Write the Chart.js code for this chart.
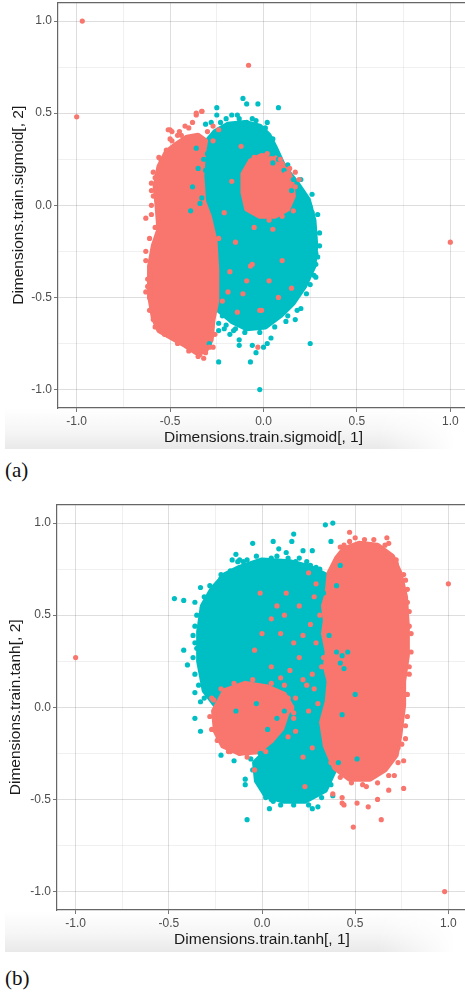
<!DOCTYPE html>
<html><head><meta charset="utf-8">
<script src="https://cdn.jsdelivr.net/npm/chart.js@4/dist/chart.umd.min.js"></script>
<style>
html,body{margin:0;padding:0;background:#fff;}
body{width:465px;height:993px;overflow:hidden;position:relative;}
.shade{position:absolute;left:5px;width:455px;height:41px;background:linear-gradient(to bottom,#ffffff 0%,#f6f6f6 55%,#e9e9e9 100%);-webkit-mask-image:linear-gradient(to right,#000 82%,transparent 99%);mask-image:linear-gradient(to right,#000 82%,transparent 99%);}
canvas{position:absolute;left:0;}
.cap{position:absolute;left:5px;font-family:"Liberation Serif","DejaVu Serif",serif;font-size:21px;line-height:21px;color:#111;}
</style></head><body>
<div class="shade" style="top:408px"></div>
<div class="shade" style="top:910px;height:42px"></div>
<canvas id="ca" width="480" height="450" style="top:0"></canvas>
<canvas id="cb" width="480" height="450" style="top:502px"></canvas>
<div class="cap" style="top:460px">(a)</div>
<div class="cap" style="top:968px">(b)</div>
<script>
const RED = '#F8766D', CYAN = '#00BFC4';
const MAJOR_TICKS = [-1, -0.5, 0, 0.5, 1];
const GRID_TICKS = [-1, -0.75, -0.5, -0.25, 0, 0.25, 0.5, 0.75, 1];
const AXIS_MIN = -1.1, AXIS_MAX = 1.1;

const A_X_TITLE = 'Dimensions.train.sigmoid[, 1]';
const A_Y_TITLE = 'Dimensions.train.sigmoid[, 2]';
const B_X_TITLE = 'Dimensions.train.tanh[, 1]';
const B_Y_TITLE = 'Dimensions.train.tanh[, 2]';

// ---- (a) sigmoid: dense regions (outlines) ----
const A_RED_LEFT_OUTLINE = [[-0.47,0.33],[-0.41,0.37],[-0.35,0.38],[-0.31,0.35],[-0.32,0.29],[-0.33,0.16],[-0.32,0.02],[-0.29,-0.06],[-0.26,-0.19],[-0.25,-0.35],[-0.25,-0.52],[-0.27,-0.62],[-0.28,-0.73],[-0.31,-0.79],[-0.36,-0.80],[-0.42,-0.76],[-0.49,-0.72],[-0.56,-0.68],[-0.59,-0.61],[-0.61,-0.49],[-0.61,-0.33],[-0.59,-0.22],[-0.56,-0.13],[-0.57,0.00],[-0.58,0.10],[-0.56,0.21],[-0.52,0.29]];
const A_CYAN_OUTLINE = [[-0.26,0.40],[-0.19,0.44],[-0.10,0.45],[-0.02,0.43],[0.03,0.38],[0.06,0.32],[0.11,0.21],[0.18,0.12],[0.24,0.03],[0.27,-0.08],[0.28,-0.22],[0.27,-0.33],[0.22,-0.44],[0.16,-0.53],[0.09,-0.60],[0.01,-0.66],[-0.09,-0.67],[-0.17,-0.63],[-0.24,-0.57],[-0.25,-0.46],[-0.25,-0.30],[-0.26,-0.14],[-0.30,0.02],[-0.32,0.19],[-0.31,0.34]];
const A_RED_RIGHT_OUTLINE = [[-0.07,0.24],[-0.01,0.27],[0.06,0.26],[0.12,0.21],[0.15,0.14],[0.16,0.05],[0.13,-0.02],[0.06,-0.06],[-0.02,-0.06],[-0.09,-0.02],[-0.11,0.07],[-0.11,0.17]];
// ---- (a) individual points ----
const A_RED_POINTS = [[-0.97,1.00],[-1.00,0.48],[-0.08,0.76],[1.00,-0.20],
 [-0.36,0.49],[-0.33,0.51],[-0.38,0.45],[-0.50,0.41],[-0.49,0.35],[-0.44,0.38],[-0.27,0.35],[-0.12,0.32],[-0.54,0.21],[-0.60,0.08],[-0.63,-0.07],[-0.60,0.00],[0.17,0.18],[0.12,0.17],[0.19,0.14],
 [0.05,-0.13],[-0.07,-0.33],[0.03,-0.41],[-0.11,-0.48],[-0.02,-0.57],[-0.09,-0.41],[-0.18,-0.36],[-0.24,-0.18],[-0.27,-0.24],[-0.19,-0.47],[-0.06,-0.32],[-0.01,-0.57],[-0.03,-0.77],[-0.21,-0.04],[-0.17,0.13],
 [-0.31,-0.80],[-0.34,-0.81],[-0.29,-0.77],[-0.60,-0.33],[-0.61,-0.50],[-0.59,-0.62],[-0.62,-0.40],
 [-0.42,0.43],[-0.46,0.38],[-0.30,0.40],[-0.52,0.30],[-0.55,0.25],[-0.58,0.15],
 [-0.51,0.41],[-0.49,0.40],[-0.36,0.50],[-0.33,0.51],[-0.27,0.43],[-0.24,0.41],
 [-0.50,0.36],[-0.45,0.40],[-0.40,0.42],[-0.56,0.26],[-0.59,0.18],[-0.60,0.12],[-0.59,0.05],[-0.60,-0.05],[-0.58,-0.12],[-0.61,-0.18],[-0.63,-0.25],[-0.63,-0.30],[-0.62,-0.44],[-0.63,-0.47],[-0.61,-0.57],[-0.58,-0.66],[-0.53,-0.70],[-0.46,-0.75],[-0.40,-0.79],[-0.35,-0.82],[-0.32,-0.83],[-0.27,-0.77],[-0.26,-0.70],
 [-0.05,0.26],[0.02,0.28],[0.09,0.25],[0.14,0.20],[0.17,0.10],[0.16,-0.03],[0.10,-0.06],[0.03,-0.08],
 [-0.15,-0.20],[0.10,-0.30],[-0.05,-0.12],[0.15,-0.45],[-0.14,-0.58],[0.08,-0.50],[-0.22,-0.52]];
const A_CYAN_POINTS = [[-0.02,-1.00],
 [-0.11,0.58],[-0.09,0.55],[-0.03,0.55],[0.08,0.53],[-0.25,0.53],[-0.25,0.49],[-0.17,0.49],[-0.14,0.49],[-0.31,0.44],[-0.23,0.45],[-0.09,0.45],[-0.04,0.46],[0.01,0.42],[0.02,0.38],[0.05,0.31],[0.03,0.28],[0.05,0.28],[0.05,0.23],[0.16,0.14],[0.17,0.10],[0.15,0.08],[0.21,-0.01],[0.25,-0.01],[0.26,-0.04],[0.30,-0.22],[0.28,-0.26],[0.28,-0.32],[0.28,-0.39],[0.25,-0.43],[0.20,-0.56],[0.17,-0.62],[0.12,-0.63],[0.25,-0.75],
 [-0.24,-0.85],[-0.07,-0.85],[-0.04,-0.80],[0.00,-0.77],[-0.13,-0.73],[-0.13,-0.76],[-0.06,-0.76],[0.02,-0.75],[0.04,-0.72],[-0.29,-0.75],[-0.24,-0.64],[-0.24,-0.68],[-0.18,-0.70],[-0.21,-0.67],[-0.16,-0.68],
 [-0.38,0.10],[-0.33,0.04],[-0.31,0.19],[-0.32,0.25],[-0.34,0.01],[-0.39,-0.03],
 [0.11,0.19],[0.20,0.05],[0.22,0.00],[0.24,-0.08],[0.27,-0.12],
 [-0.28,0.45],[-0.20,0.47],[-0.13,0.47],[-0.06,0.47],[0.02,0.45],[0.05,0.36],[0.08,0.25],[0.13,0.22],[0.20,0.14],[0.26,0.06],[0.29,-0.05],[0.30,-0.15],[0.29,-0.28],[0.27,-0.38],[0.23,-0.48],[0.18,-0.57],[0.13,-0.60],[0.06,-0.66],[-0.02,-0.69],[-0.10,-0.69],[-0.15,-0.67],[-0.20,-0.65],[-0.22,-0.60],
 [-0.30,0.28],[-0.35,0.20],[-0.29,0.12],[-0.36,0.31]];

// ---- (b) tanh: dense regions ----
const B_CYAN_MAIN_OUTLINE = [[-0.12,0.76],[0.00,0.80],[0.15,0.79],[0.26,0.76],[0.34,0.72],[0.39,0.63],[0.39,0.47],[0.38,0.25],[0.40,0.09],[0.36,-0.05],[0.30,-0.10],[0.20,-0.10],[0.10,-0.05],[-0.01,0.02],[-0.14,0.03],[-0.25,0.01],[-0.31,0.09],[-0.34,0.25],[-0.34,0.41],[-0.32,0.55],[-0.27,0.64],[-0.20,0.72]];
const B_RED_LOWER_OUTLINE = [[-0.20,0.09],[-0.09,0.13],[0.03,0.11],[0.12,0.07],[0.16,0.00],[0.15,-0.08],[0.12,-0.15],[0.06,-0.21],[0.00,-0.24],[-0.12,-0.25],[-0.21,-0.21],[-0.25,-0.13],[-0.26,-0.02]];
const B_CYAN_LOWER_OUTLINE = [[0.16,-0.04],[0.26,-0.06],[0.36,-0.11],[0.40,-0.21],[0.39,-0.34],[0.34,-0.45],[0.23,-0.51],[0.12,-0.51],[0.02,-0.48],[-0.03,-0.40],[-0.04,-0.30],[0.01,-0.25],[0.07,-0.20],[0.13,-0.13]];
const B_RED_MAIN_OUTLINE = [[0.44,0.86],[0.52,0.89],[0.62,0.88],[0.70,0.82],[0.74,0.73],[0.77,0.60],[0.78,0.44],[0.78,0.28],[0.76,0.14],[0.76,0.01],[0.74,-0.15],[0.72,-0.26],[0.66,-0.34],[0.58,-0.39],[0.47,-0.39],[0.39,-0.33],[0.34,-0.21],[0.32,-0.08],[0.35,0.03],[0.36,0.14],[0.34,0.22],[0.35,0.30],[0.33,0.40],[0.34,0.47],[0.33,0.55],[0.35,0.62],[0.36,0.73],[0.40,0.81]];
// ---- (b) individual points ----
const B_RED_POINTS = [[-1.00,0.27],[1.00,0.67],[0.98,-1.00],
 [0.47,0.95],[0.50,0.92],[0.67,0.92],[0.68,0.89],[0.64,0.86],[0.44,0.88],[0.72,0.78],[0.77,0.69],[0.78,0.57],[0.79,0.44],[0.77,0.35],[0.79,0.18],[0.75,0.12],[0.77,-0.17],[0.25,0.73],[0.39,0.75],[-0.01,0.62],[0.13,0.62],[0.12,0.50],[0.05,0.48],[0.22,0.39],[0.17,0.35],[0.29,0.35],[-0.04,0.31],[0.29,0.67],[0.27,0.18],
 [0.43,-0.49],[0.51,-0.52],[0.57,-0.54],[0.64,-0.61],[0.49,-0.65],[0.76,-0.44],[0.76,-0.29],[0.73,-0.22],[0.62,-0.50],[0.44,-0.53],[0.56,-0.43],[0.43,-0.52],[0.38,-0.47],[0.68,-0.45],[0.71,-0.37],
 [-0.17,-0.24],[-0.12,-0.25],[-0.04,-0.34],[0.02,-0.24],[-0.23,-0.06],[-0.22,-0.14],[-0.26,0.04],
 [0.15,0.20],[0.22,0.15],[0.28,0.10],[0.18,0.05],[0.25,-0.02],[0.30,0.02],[0.10,0.16],[0.32,0.22],[0.17,-0.03],[0.24,0.12],[0.33,-0.07],[0.12,0.12],
 [0.18,-0.13],[0.22,-0.27],[0.27,-0.22],[0.23,-0.43],
 [0.42,0.87],[0.47,0.90],[0.55,0.91],[0.60,0.91],[0.66,0.88],[0.72,0.80],[0.76,0.72],[0.78,0.64],[0.79,0.52],[0.80,0.40],[0.80,0.30],[0.79,0.22],[0.78,0.07],[0.78,-0.05],[0.77,-0.10],[0.75,-0.20],[0.73,-0.30],[0.68,-0.37],[0.62,-0.41],[0.54,-0.42],[0.48,-0.41],[0.42,-0.38],[0.37,-0.30],
 [-0.22,0.10],[-0.15,0.13],[-0.05,0.15],[0.05,0.13],[-0.27,0.05],[-0.28,-0.05],[-0.27,-0.12],[-0.24,-0.18],[-0.18,-0.24],[-0.08,-0.27],[0.14,0.05],[0.17,-0.06],
 [0.08,0.55],[0.20,0.55],[0.31,0.50],[0.26,0.45],[0.10,0.40],[0.33,0.27],[0.20,0.27],[0.05,0.22],[0.28,0.60],[0.00,0.40],
 [0.10,-0.10],[0.14,-0.16],[0.05,-0.18]];
const B_CYAN_POINTS = [[0.34,0.99],[0.38,1.00],[0.37,0.90],[0.17,0.94],[0.16,0.90],[0.06,0.90],[-0.05,0.89],[-0.14,0.83],[-0.16,0.80],[-0.12,0.80],[0.22,0.85],[0.27,0.85],[0.26,0.77],[0.29,0.76],[0.13,0.84],[0.18,0.79],[0.42,0.77],
 [-0.08,0.80],[0.05,0.81],[0.09,0.86],[0.20,0.81],[-0.26,0.65],[-0.22,0.70],[-0.17,0.74],[-0.13,0.79],
 [-0.47,0.59],[-0.42,0.58],[-0.36,0.57],[-0.33,0.65],[-0.32,0.54],[-0.27,0.61],[-0.37,0.39],[-0.42,0.31],[-0.35,0.32],[-0.40,0.23],[-0.36,0.08],[-0.36,-0.06],[-0.33,-0.13],[-0.31,0.05],[-0.30,0.11],
 [-0.22,-0.26],[-0.15,-0.29],[-0.09,-0.39],[-0.09,-0.42],[-0.08,-0.61],[0.02,-0.49],[0.04,-0.55],[0.06,-0.51],[0.27,-0.55],[0.30,-0.54],[0.20,-0.50],[0.38,-0.48],[0.51,-0.28],[0.50,0.07],[0.43,-0.04],
 [0.40,0.30],[0.43,0.28],[0.46,0.30],[0.42,0.24],[0.44,0.21],[0.36,0.39],[0.40,0.66],[0.33,0.62],
 [-0.03,0.02],[-0.14,-0.02],[-0.01,-0.25],
 [-0.10,0.79],[-0.03,0.82],[0.08,0.82],[0.14,0.81],[0.24,0.79],[0.31,0.75],[-0.22,0.72],[-0.28,0.66],[-0.31,0.60],[-0.35,0.50],[-0.36,0.44],[-0.36,0.35],[-0.37,0.27],[-0.36,0.18],[-0.34,0.12],[-0.33,0.03],
 [0.00,-0.43],[0.05,-0.50],[0.10,-0.53],[0.17,-0.53],[0.25,-0.53],[0.32,-0.49],[0.37,-0.42],[0.41,-0.30],[-0.05,-0.34],[-0.06,-0.28],
 [0.08,-0.06],[0.12,-0.02],[0.03,-0.12]];

function pts(a) { return a.map(p => ({x: p[0], y: p[1]})); }
function blob(outline, color, order) {
  return {type: 'line', data: pts(outline.concat([outline[0]])), fill: 'shape',
    backgroundColor: color, borderColor: color, borderWidth: 5, borderJoinStyle: 'round', borderCapStyle: 'round',
    pointRadius: 0, pointHoverRadius: 0, tension: 0, order: order};
}
function dots(arr, color, order) {
  return {type: 'scatter', data: pts(arr), backgroundColor: color, borderWidth: 0,
    pointRadius: 2.6, pointHoverRadius: 2.6, order: order};
}
const isMajor = v => MAJOR_TICKS.some(m => Math.abs(m - v) < 1e-9);
const FONT = "'Liberation Sans', Arial, sans-serif";
const frame = {id: 'frame', afterDraw(c) {
  const a = c.chartArea, x = c.ctx;
  x.save(); x.strokeStyle = '#666'; x.lineWidth = 1.2;
  x.beginPath(); x.moveTo(a.left, a.top); x.lineTo(a.right, a.top); x.lineTo(a.right, a.bottom); x.stroke();
  x.restore();
}};

function axis(title, fitFn, titlePad) {
  return {
    type: 'linear', min: AXIS_MIN, max: AXIS_MAX,
    afterBuildTicks: s => { s.ticks = GRID_TICKS.map(v => ({value: v})); },
    afterFit: fitFn,
    grid: {
      color: c => (c.tick && isMajor(c.tick.value)) ? 'rgba(0,0,0,0.13)' : 'rgba(0,0,0,0.06)',
      lineWidth: 1, drawTicks: true, tickLength: 4,
      tickColor: c => (c.tick && isMajor(c.tick.value)) ? '#777' : 'rgba(0,0,0,0)'
    },
    border: {display: true, color: '#666', width: 1.2},
    ticks: {autoSkip: false, maxRotation: 0, padding: 2, color: '#4d4d4d',
      font: {family: FONT, size: 12},
      callback: v => isMajor(v) ? v.toFixed(1) : ''},
    title: {display: true, text: title, color: '#1a1a1a', font: {family: FONT, size: 15.5}, padding: titlePad}
  };
}

function makeChart(id, datasets, xTitle, yTitle, yW, padRight, yTitlePad) {
  new Chart(document.getElementById(id), {
    type: 'scatter',
    data: {datasets: datasets},
    options: {
      responsive: false, animation: false, events: [],
      layout: {padding: {top: 1, right: padRight, bottom: 0, left: 0}},
      plugins: {legend: {display: false}, tooltip: {enabled: false}},
      scales: {
        x: axis(xTitle, s => { s.height = 42; s.paddingLeft = 0; s.paddingRight = 0; }, {top: 0, bottom: 3}),
        y: axis(yTitle, s => { s.width = yW; s.paddingTop = 0; s.paddingBottom = 0; }, {top: yTitlePad, bottom: 0})
      }
    },
    plugins: [frame]
  });
}

makeChart('ca', [
  blob(A_CYAN_OUTLINE, CYAN, 5),
  blob(A_RED_LEFT_OUTLINE, RED, 4),
  blob(A_RED_RIGHT_OUTLINE, RED, 3),
  dots(A_CYAN_POINTS, CYAN, 2),
  dots(A_RED_POINTS, RED, 1)
], A_X_TITLE, A_Y_TITLE, 58, 11, 9);

makeChart('cb', [
  blob(B_CYAN_MAIN_OUTLINE, CYAN, 7),
  blob(B_RED_LOWER_OUTLINE, RED, 6),
  blob(B_CYAN_LOWER_OUTLINE, CYAN, 5),
  blob(B_RED_MAIN_OUTLINE, RED, 4),
  dots(B_CYAN_POINTS, CYAN, 2),
  dots(B_RED_POINTS, RED, 1)
], B_X_TITLE, B_Y_TITLE, 57, 13, 6.5);
</script>
</body></html>
